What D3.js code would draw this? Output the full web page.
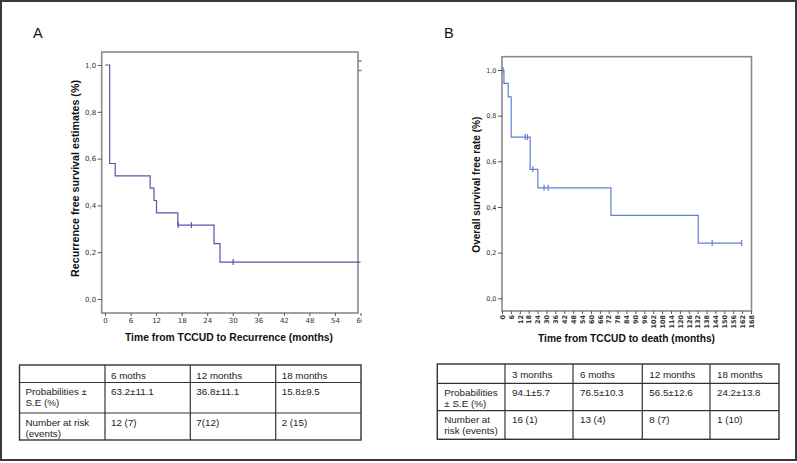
<!DOCTYPE html>
<html><head><meta charset="utf-8">
<script src="https://cdn.jsdelivr.net/npm/d3@7"></script>
<style>body{margin:0;background:#fff}svg{display:block}</style>
</head><body><svg id="c" width="797" height="463"></svg>
<script>
// ---- Data ----
const timesA = [0, 1.1, 2.4, 10.6, 11.5, 12.1, 17.1, 25.6, 27.0, 60];
const survA  = [1, 0.579, 0.526, 0.474, 0.421, 0.368, 0.316, 0.237, 0.158, 0.158];
const censorTimesA = [17.2, 20.3, 30.1];
const censorSurvA  = [0.316, 0.316, 0.158];
const ticksXA = [0, 6, 12, 18, 24, 30, 36, 42, 48, 54, 60];

const timesB = [0, 1.3, 4.2, 6.2, 19.0, 24.2, 73.5, 132.4, 161.7];
const survB  = [1, 0.941, 0.882, 0.706, 0.565, 0.484, 0.363, 0.242, 0.242];
const censorTimesB = [0.7, 15.7, 17.2, 20.8, 28.4, 31.1, 141.8, 161.7];
const censorSurvB  = [1, 0.706, 0.706, 0.565, 0.484, 0.484, 0.242, 0.242];
const ticksXB = [0,6,12,18,24,30,36,42,48,54,60,66,72,78,84,90,96,102,108,114,120,126,132,138,144,150,156,162,168];

const ticksY = [0, 0.2, 0.4, 0.6, 0.8, 1.0];

const tableAHeader = ["", "6 moths", "12 months", "18 months"];
const tableARows = [
  [["Probabilities ±", "S.E (%)"], ["63.2±11.1"], ["36.8±11.1"], ["15.8±9.5"]],
  [["Number at risk", "(events)"], ["12 (7)"], ["7(12)"], ["2 (15)"]]
];
const tableBHeader = ["", "3 months", "6 moths", "12 months", "18 months"];
const tableBRows = [
  [["Probabilities", "± S.E (%)"], ["94.1±5.7"], ["76.5±10.3"], ["56.5±12.6"], ["24.2±13.8"]],
  [["Number at", "risk (events)"], ["16 (1)"], ["13 (4)"], ["8 (7)"], ["1 (10)"]]
];

// ---- Drawing ----
const svg = d3.select("#c");
svg.append("rect").attr("x",1).attr("y",1).attr("width",795).attr("height",459)
  .attr("fill","#fff").attr("stroke","#3a3a3a").attr("stroke-width",2);

const fmtY = d => d3.format(".1f")(d).replace(".", ",");

function panel(cfg) {
  const g = svg.append("g");
  const x = d3.scaleLinear().domain(cfg.xDomain).range(cfg.xRange);
  const y = d3.scaleLinear().domain([0, 1]).range(cfg.yRange);
  const clipId = "clip" + cfg.id;
  svg.append("defs").append("clipPath").attr("id", clipId)
    .append("rect").attr("x", cfg.box.l - 10).attr("y", cfg.box.t - 10)
    .attr("width", cfg.clipR - cfg.box.l + 10).attr("height", cfg.box.b - cfg.box.t + 60);

  // box
  g.append("rect").attr("x", cfg.box.l).attr("y", cfg.box.t)
    .attr("width", cfg.box.r - cfg.box.l).attr("height", cfg.box.b - cfg.box.t)
    .attr("fill", "none").attr("stroke", "#8a8a8a").attr("stroke-width", 1.6);

  // y axis
  const ya = g.append("g").attr("transform", `translate(${cfg.box.l},0)`)
    .call(d3.axisLeft(y).tickValues(ticksY).tickFormat(fmtY).tickSize(4).tickPadding(1.5));
  ya.select(".domain").remove();
  ya.selectAll("line").attr("stroke", "#555");
  ya.selectAll("text").attr("font-family", "DejaVu Sans").attr("font-size", cfg.yTickFs).attr("fill", "#333");

  // x axis (wrapped in a clipped group)
  const xw = g.append("g").attr("clip-path", `url(#${clipId})`);
  const xa = xw.append("g").attr("transform", `translate(0,${cfg.box.b})`)
    .call(d3.axisBottom(x).tickValues(cfg.ticksX).tickSize(3).tickPadding(2));
  xa.select(".domain").remove();
  xa.selectAll("line").attr("stroke", "#555");
  xa.selectAll("text").attr("font-family", "DejaVu Sans").attr("font-size", cfg.xTickFs).attr("fill", "#333");
  if (cfg.rotate) {
    xa.selectAll("text").attr("transform", "rotate(-90)").attr("text-anchor", "end")
      .attr("x", -4).attr("y", 0).attr("dy", "0.35em").attr("font-weight", "bold");
  }

  // curve
  const pts = cfg.times.map((t, i) => [t, cfg.surv[i]]);
  g.append("path").datum(pts).attr("clip-path", `url(#${clipId})`)
    .attr("d", d3.line().x(d => x(d[0])).y(d => y(d[1])).curve(d3.curveStepAfter))
    .attr("fill", "none").attr("stroke", cfg.color).attr("stroke-width", 1.2);
  g.selectAll(".cens" + cfg.id).data(cfg.cTimes).enter().append("line")
    .attr("x1", d => x(d)).attr("x2", d => x(d))
    .attr("y1", (d, i) => y(cfg.cSurv[i]) - 3).attr("y2", (d, i) => y(cfg.cSurv[i]) + 3)
    .attr("stroke", cfg.color).attr("stroke-width", 1.2);

  // titles
  g.append("text").attr("x", cfg.xTitle[0]).attr("y", cfg.xTitle[1]).attr("text-anchor", "middle")
    .attr("font-family", "Liberation Sans, Arial").attr("font-weight", "bold").attr("font-size", 10.8)
    .attr("fill", "#111").attr("textLength", cfg.xTitle[2]).attr("lengthAdjust", "spacingAndGlyphs")
    .text(cfg.xLabel);
  g.append("text").attr("transform", `translate(${cfg.yTitle[0]},${cfg.yTitle[1]}) rotate(-90)`)
    .attr("text-anchor", "middle")
    .attr("font-family", "Liberation Sans, Arial").attr("font-weight", "bold").attr("font-size", 10.8)
    .attr("fill", "#111").attr("textLength", cfg.yTitle[2]).attr("lengthAdjust", "spacingAndGlyphs")
    .text(cfg.yLabel);
  g.append("text").attr("x", cfg.letter[0]).attr("y", cfg.letter[1])
    .attr("font-family", "Liberation Sans, Arial").attr("font-size", 14.5).attr("fill", "#111")
    .text(cfg.id);
  return {x, y, g};
}

const pA = panel({
  id: "A", box: {l: 101.7, t: 52, r: 358, b: 313}, clipR: 362,
  xDomain: [0, 60], xRange: [105, 360.5], yRange: [299, 65],
  ticksX: ticksXA, times: timesA, surv: survA, cTimes: censorTimesA, cSurv: censorSurvA,
  color: "#5555a8", yTickFs: 7, xTickFs: 7, rotate: false,
  xLabel: "Time from TCCUD to Recurrence (months)", xTitle: [229, 341, 208],
  yLabel: "Recurrence free survival estimates (%)", yTitle: [79, 178.5, 197],
  letter: [33, 38]
});
// clipped legend remnant at top-right of panel A
pA.g.selectAll(".leg").data([61, 70.5]).enter().append("line")
  .attr("x1", 358.5).attr("x2", 361.5).attr("y1", d => d).attr("y2", d => d)
  .attr("stroke", "#6a6ab8").attr("stroke-width", 1.4);

const pB = panel({
  id: "B", box: {l: 502, t: 56.7, r: 751.5, b: 311}, clipR: 770,
  xDomain: [0, 168], xRange: [502, 751], yRange: [298.3, 70],
  ticksX: ticksXB, times: timesB, surv: survB, cTimes: censorTimesB, cSurv: censorSurvB,
  color: "#5f7fcf", yTickFs: 6.5, xTickFs: 6.5, rotate: true,
  xLabel: "Time from TCCUD to death (months)", xTitle: [626.5, 342, 177],
  yLabel: "Overall survival free rate (%)", yTitle: [480, 184.7, 136],
  letter: [444, 38]
});

// ---- Tables ----
function table(cfg) {
  const g = svg.append("g");
  const cols = cfg.cols, rows = cfg.rows;
  g.append("rect").attr("x", cols[0]).attr("y", rows[0])
    .attr("width", cols[cols.length - 1] - cols[0]).attr("height", rows[rows.length - 1] - rows[0])
    .attr("fill", "none").attr("stroke", "#333").attr("stroke-width", 1.4);
  g.selectAll(".v").data(cols.slice(1, -1)).enter().append("line")
    .attr("x1", d => d).attr("x2", d => d).attr("y1", rows[0]).attr("y2", rows[rows.length - 1])
    .attr("stroke", "#333").attr("stroke-width", 1.2);
  g.selectAll(".h").data(rows.slice(1, -1)).enter().append("line")
    .attr("x1", cols[0]).attr("x2", cols[cols.length - 1]).attr("y1", d => d).attr("y2", d => d)
    .attr("stroke", "#333").attr("stroke-width", 1.2);
  const txt = (x, y, s) => g.append("text").attr("x", x).attr("y", y)
    .attr("font-family", "Liberation Sans, Arial").attr("font-size", 9.8).attr("fill", "#222").text(s);
  cfg.header.forEach((h, i) => { if (h) txt(cols[i] + cfg.pad, rows[0] + 13.5, h); });
  cfg.data.forEach((row, r) => {
    row.forEach((cell, c) => {
      cell.forEach((line, k) => txt(cols[c] + cfg.pad, rows[r + 1] + 12.5 + k * 11, line));
    });
  });
}
table({cols: [19.5, 105, 190.3, 275.7, 361], rows: [365, 382.5, 413, 440],
  header: tableAHeader, data: tableARows, pad: 6});
table({cols: [437.3, 505, 573, 642.3, 710, 779], rows: [364, 383.3, 410.7, 439.3],
  header: tableBHeader, data: tableBRows, pad: 7});
</script>
</body></html>
